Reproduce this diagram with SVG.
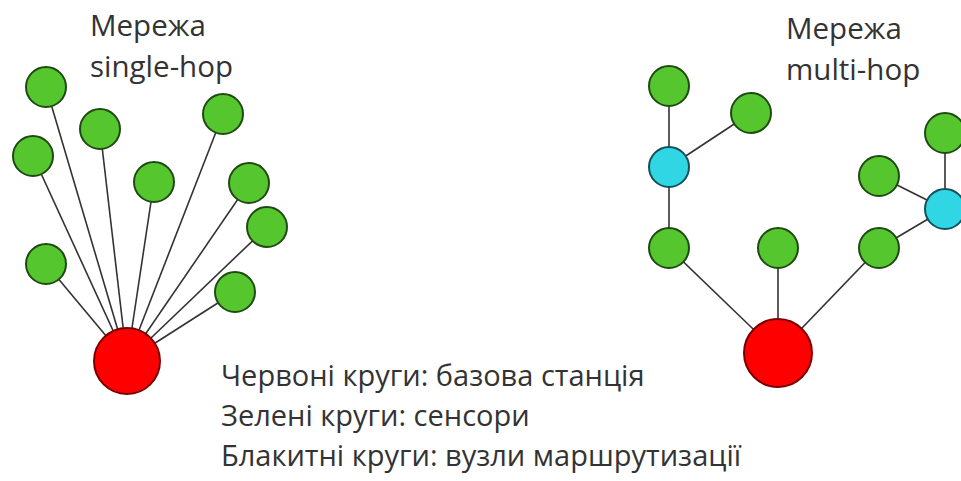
<svg xmlns="http://www.w3.org/2000/svg" width="961" height="481" viewBox="0 0 961 481">
<style>
.t{font-family:"Open Sans","Noto Sans","DejaVu Sans",sans-serif;font-size:29.5px;fill:#333}
.s{font-size:29px}
.e line{stroke:#333;stroke-width:1.6}
.g{fill:#55c62e;stroke:#1f4a14;stroke-width:2}
.b{fill:#30d6e4;stroke:#14505a;stroke-width:2}
.r{fill:#ff0000;stroke:#7a0000;stroke-width:2}
</style>
<rect width="961" height="481" fill="#fff"/>
<g id="edges" class="e">
<line x1="46" y1="87" x2="127" y2="361"/>
<line x1="100" y1="129" x2="127" y2="361"/>
<line x1="33" y1="156" x2="127" y2="361"/>
<line x1="154" y1="182" x2="127" y2="361"/>
<line x1="223" y1="114" x2="127" y2="361"/>
<line x1="249" y1="183" x2="127" y2="361"/>
<line x1="267" y1="227" x2="127" y2="361"/>
<line x1="46" y1="264" x2="127" y2="361"/>
<line x1="235" y1="292" x2="127" y2="361"/>
<line x1="669" y1="86" x2="669" y2="167"/>
<line x1="751" y1="113" x2="669" y2="167"/>
<line x1="669" y1="167" x2="669" y2="248"/>
<line x1="669" y1="248" x2="778" y2="353"/>
<line x1="778" y1="248" x2="778" y2="353"/>
<line x1="879" y1="248" x2="778" y2="353"/>
<line x1="879" y1="248" x2="945" y2="209"/>
<line x1="945" y1="133" x2="945" y2="209"/>
<line x1="879" y1="176" x2="945" y2="209"/>
</g>
<g id="s1"><circle class="g" cx="46" cy="87" r="20"/></g>
<g id="s2"><circle class="g" cx="100" cy="129" r="20"/></g>
<g id="s3"><circle class="g" cx="33" cy="156" r="20"/></g>
<g id="s4"><circle class="g" cx="154" cy="182" r="20"/></g>
<g id="s5"><circle class="g" cx="223" cy="114" r="20"/></g>
<g id="s6"><circle class="g" cx="249" cy="183" r="20"/></g>
<g id="s7"><circle class="g" cx="267" cy="227" r="20"/></g>
<g id="s8"><circle class="g" cx="46" cy="264" r="20"/></g>
<g id="s9"><circle class="g" cx="235" cy="292" r="20"/></g>
<g id="base1"><circle class="r" cx="127" cy="361" r="33"/></g>
<g id="m1"><circle class="g" cx="669" cy="86" r="20"/></g>
<g id="m2"><circle class="g" cx="751" cy="113" r="20"/></g>
<g id="c1"><circle class="b" cx="669" cy="167" r="20"/></g>
<g id="m3"><circle class="g" cx="669" cy="248" r="20"/></g>
<g id="m4"><circle class="g" cx="778" cy="248" r="20"/></g>
<g id="m5"><circle class="g" cx="879" cy="248" r="20"/></g>
<g id="m6"><circle class="g" cx="945" cy="133" r="20"/></g>
<g id="m7"><circle class="g" cx="879" cy="176" r="20"/></g>
<g id="c2"><circle class="b" cx="945" cy="209" r="20"/></g>
<g id="base2"><circle class="r" cx="778" cy="353" r="34"/></g>
<g id="labels">
<text class="t" x="90" y="36">Мережа</text>
<text class="t" x="90" y="77">single-hop</text>
<text class="t" x="786" y="39">Мережа</text>
<text class="t" x="786" y="80">multi-hop</text>
<text class="t s" x="221" y="386">Червоні круги: базова станція</text>
<text class="t s" x="221" y="426">Зелені круги: сенсори</text>
<text class="t s" x="221" y="466">Блакитні круги: вузли маршрутизації</text>
</g>
</svg>
